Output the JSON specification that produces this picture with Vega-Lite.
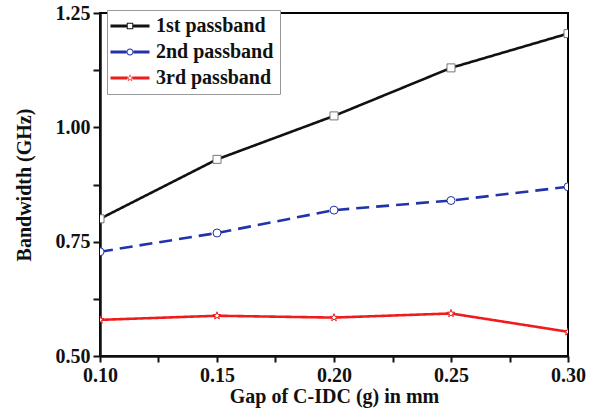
{
  "$schema": "https://vega.github.io/schema/vega-lite/v6.json",
  "autosize": "none",
  "width": 468,
  "height": 343,
  "padding": {"left": 100, "top": 13, "right": 26, "bottom": 56},
  "background": "white",
  "config": {
    "view": {"stroke": "black", "strokeWidth": 2},
    "font": "Liberation Serif",
    "axis": {
      "labelFont": "Liberation Serif",
      "labelFontWeight": "bold",
      "labelFontSize": 20,
      "labelColor": "#111",
      "titleFont": "Liberation Serif",
      "titleFontWeight": "bold",
      "titleFontSize": 20,
      "titleColor": "#111",
      "domainColor": "#111",
      "domainWidth": 2.5,
      "tickColor": "#111",
      "tickWidth": 2,
      "grid": false
    },
    "legend": {
      "labelFont": "Liberation Serif",
      "labelFontWeight": "bold",
      "labelFontSize": 20,
      "labelColor": "#111"
    }
  },
  "data": {
    "values": [
      {"g": 0.10, "bw": 0.800, "series": "1st passband"},
      {"g": 0.15, "bw": 0.930, "series": "1st passband"},
      {"g": 0.20, "bw": 1.025, "series": "1st passband"},
      {"g": 0.25, "bw": 1.130, "series": "1st passband"},
      {"g": 0.30, "bw": 1.205, "series": "1st passband"},
      {"g": 0.10, "bw": 0.728, "series": "2nd passband"},
      {"g": 0.15, "bw": 0.769, "series": "2nd passband"},
      {"g": 0.20, "bw": 0.819, "series": "2nd passband"},
      {"g": 0.25, "bw": 0.840, "series": "2nd passband"},
      {"g": 0.30, "bw": 0.870, "series": "2nd passband"},
      {"g": 0.10, "bw": 0.579, "series": "3rd passband"},
      {"g": 0.15, "bw": 0.588, "series": "3rd passband"},
      {"g": 0.20, "bw": 0.584, "series": "3rd passband"},
      {"g": 0.25, "bw": 0.593, "series": "3rd passband"},
      {"g": 0.30, "bw": 0.553, "series": "3rd passband"}
    ]
  },
  "encoding": {
    "x": {
      "field": "g", "type": "quantitative",
      "scale": {"domain": [0.1, 0.3], "nice": false, "zero": false},
      "axis": {
        "title": "Gap of C-IDC (g) in mm",
        "values": [0.1, 0.125, 0.15, 0.175, 0.2, 0.225, 0.25, 0.275, 0.3],
        "labelExpr": "round(datum.value*40) % 2 == 1 ? '' : format(datum.value, '.2f')",
        "tickSize": 6,
        "labelPadding": 3,
        "titlePadding": 1,
        "labelFlush": false
      }
    },
    "y": {
      "field": "bw", "type": "quantitative",
      "scale": {"domain": [0.5, 1.25], "nice": false, "zero": false},
      "axis": {
        "title": "Bandwidth (GHz)",
        "values": [0.5, 0.625, 0.75, 0.875, 1.0, 1.125, 1.25],
        "labelExpr": "round(datum.value*8) % 2 == 1 ? '' : format(datum.value, '.2f')",
        "tickSize": 7,
        "labelPadding": 3,
        "titlePadding": 21,
        "labelFlush": false
      }
    }
  },
  "layer": [
    {
      "mark": {"type": "line", "strokeWidth": 2.6, "clip": true},
      "encoding": {
        "color": {
          "field": "series", "type": "nominal",
          "scale": {"domain": ["1st passband", "2nd passband", "3rd passband"], "range": ["#111111", "#2233aa", "#ee1c1c"]},
          "legend": null
        },
        "strokeDash": {
          "field": "series", "type": "nominal",
          "scale": {"domain": ["1st passband", "2nd passband", "3rd passband"], "range": [[1, 0], [13, 7], [1, 0]]},
          "legend": null
        }
      }
    },
    {
      "mark": {"type": "point", "filled": true, "fill": "white", "strokeWidth": 1, "size": 64, "opacity": 1, "clip": true},
      "encoding": {
        "shape": {
          "field": "series", "type": "nominal",
          "scale": {"domain": ["1st passband", "2nd passband", "3rd passband"], "range": ["square", "circle", "M0,-1L0.235,-0.324L0.951,-0.309L0.38,0.124L0.588,0.809L0,0.4L-0.588,0.809L-0.38,0.124L-0.951,-0.309L-0.235,-0.324Z"]},
          "legend": null
        },
        "stroke": {
          "field": "series", "type": "nominal",
          "scale": {"domain": ["1st passband", "2nd passband", "3rd passband"], "range": ["#777777", "#2233aa", "#ee1c1c"]},
          "legend": null
        }
      }
    },
    {
      "transform": [{"filter": "datum.g > 1"}],
      "mark": {"type": "point", "filled": true, "strokeWidth": 0, "opacity": 1},
      "encoding": {
        "fill": {
          "field": "series", "type": "nominal",
          "scale": {"domain": ["1st passband", "2nd passband", "3rd passband"], "range": ["#111111", "#2233aa", "#ee1c1c"]},
          "legend": {
            "title": null, "orient": "none", "legendX": 7, "legendY": -3,
            "padding": 6, "fillColor": "white", "strokeColor": "#999999",
            "symbolSize": 100, "symbolStrokeWidth": 0, "symbolOpacity": 1, "symbolOffset": 7, "labelOffset": 16, "rowPadding": 6
          }
        },
        "shape": {
          "field": "series", "type": "nominal",
          "scale": {"domain": ["1st passband", "2nd passband", "3rd passband"], "range": [
            "M-3.9,-0.3H-0.65V0.3H-3.9ZM0.65,-0.3H3.9V0.3H0.65ZM-0.65,-0.65H0.65V0.65H-0.65ZM-0.45,-0.45V0.45H0.45V-0.45Z",
            "M-3.9,-0.3H-0.7V0.3H-3.9ZM0.7,-0.3H3.9V0.3H0.7ZM0.7,0A0.7,0.7,0,1,1,-0.7,0A0.7,0.7,0,1,1,0.7,0ZM0.5,0A0.5,0.5,0,1,0,-0.5,0A0.5,0.5,0,1,0,0.5,0Z",
            "M-3.9,-0.3H-0.5V0.3H-3.9ZM0.5,-0.3H3.9V0.3H0.5ZM0,-0.8L0.194,-0.267L0.761,-0.247L0.314,0.102L0.47,0.647L0,0.33L-0.47,0.647L-0.314,0.102L-0.761,-0.247L-0.194,-0.267ZM0,-0.5L-0.112,-0.154L-0.476,-0.155L-0.181,0.059L-0.294,0.405L0,0.19L0.294,0.405L0.181,0.059L0.476,-0.155L0.112,-0.154Z"
          ]},
          "legend": {
            "title": null, "orient": "none", "legendX": 7, "legendY": -3,
            "padding": 6, "fillColor": "white", "strokeColor": "#999999",
            "symbolSize": 100, "symbolStrokeWidth": 0, "symbolOpacity": 1, "symbolOffset": 7, "labelOffset": 16, "rowPadding": 6
          }
        }
      }
    }
  ],
  "resolve": {"scale": {"shape": "independent", "fill": "independent"}}
}
